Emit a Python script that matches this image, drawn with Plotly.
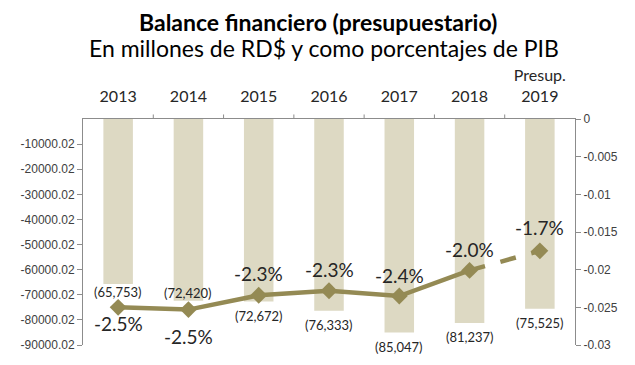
import plotly.graph_objects as go

categories = ["2013", "2014", "2015", "2016", "2017", "2018", "Presup.<br>2019"]
balance_mm = [-65753, -72420, -72672, -76333, -85047, -81237, -75525]
bar_labels = ["(65,753)", "(72,420)", "(72,672)", "(76,333)", "(85,047)", "(81,237)", "(75,525)"]
pct_pib = [-0.0250, -0.0253, -0.0234, -0.0228, -0.0235, -0.0201, -0.0175]
pct_labels = ["-2.5%", "-2.5%", "-2.3%", "-2.3%", "-2.4%", "-2.0%", "-1.7%"]
left_ticks = [-10000.02, -20000.02, -30000.02, -40000.02, -50000.02, -60000.02, -70000.02, -80000.02, -90000.02]
right_ticks = [0, -0.005, -0.01, -0.015, -0.02, -0.025, -0.03]

BAR = "#ddd9c3"
LINE = "#948a54"
TXT = "#262626"
AX = "#8c8c8c"

xpos = [float(i) for i in range(len(categories))]

fig = go.Figure()
fig.add_bar(x=xpos, y=balance_mm, marker=dict(color=BAR, line=dict(width=0)),
            width=0.42, yaxis="y", hoverinfo="skip")
# solid part (actual)
fig.add_scatter(x=xpos[:-1], y=pct_pib[:-1], yaxis="y2", mode="lines",
                line=dict(color=LINE, width=4.5), hoverinfo="skip")
# dashed part (budget)
fig.add_scatter(x=xpos[-2:], y=pct_pib[-2:], yaxis="y2", mode="lines",
                line=dict(color=LINE, width=4.5, dash="16px,16px"), hoverinfo="skip")
fig.add_scatter(x=xpos, y=pct_pib, yaxis="y2", mode="markers",
                marker=dict(symbol="diamond", size=13, color=LINE), hoverinfo="skip")

bar_shift = [-8, 8, -15, -14, -14, -14, -14]
for c, v, t, s in zip(xpos, balance_mm, bar_labels, bar_shift):
    fig.add_annotation(x=c, y=v, xref="x", yref="y", text=t, showarrow=False, yshift=s,
                       font=dict(family="Lato", size=13, color=TXT))
pct_shift = [-16, -27, 22, 21, 21, 21, 23]
for c, v, t, s in zip(xpos, pct_pib, pct_labels, pct_shift):
    fig.add_annotation(x=c, y=v, xref="x", yref="y2", text=t, showarrow=False, yshift=s,
                       font=dict(family="Lato", size=19, color=TXT))

fig.add_annotation(x=0.478, y=1, xref="paper", yref="paper", xanchor="center", yanchor="middle",
                   yshift=119 - 22, showarrow=False,
                   text="<b>Balance financiero (presupuestario)</b>",
                   font=dict(family="Lato", size=23, color="#000000"))
fig.add_annotation(x=0.49, y=1, xref="paper", yref="paper", xanchor="center", yanchor="middle",
                   yshift=119 - 48, showarrow=False,
                   text="En millones de RD$ y como porcentajes de PIB",
                   font=dict(family="Lato", size=23, color="#000000"))

# the page body has an 8px margin, so the margins are reduced by that offset
fig.update_layout(
    width=635, height=365,
    margin=dict(l=75, r=68, t=111, b=28),
    paper_bgcolor="white", plot_bgcolor="white",
    showlegend=False,
    xaxis=dict(side="top", range=[-0.5, len(categories) - 0.5], automargin=False,
               tickvals=xpos, ticktext=categories,
               showline=True, linecolor=AX, linewidth=1, ticks="",
               ticklabelstandoff=10, zeroline=False,
               tickfont=dict(family="Lato", size=16, color=TXT), showgrid=False),
    yaxis=dict(range=[-90000.02, 0], tickvals=left_ticks, automargin=False,
               ticktext=["%.2f" % v for v in left_ticks],
               showline=True, linecolor=AX, ticks="outside", ticklen=5, tickcolor=AX,
               showgrid=False, zeroline=False,
               tickfont=dict(family="Liberation Sans", size=12, color="#404040")),
    yaxis2=dict(range=[-0.03, 0], overlaying="y", side="right", tickvals=right_ticks,
                ticktext=[("%g" % v) for v in right_ticks], automargin=False,
                showline=True, linecolor=AX, ticks="outside", ticklen=5, tickcolor=AX,
                showgrid=False, zeroline=False,
                tickfont=dict(family="Liberation Sans", size=12, color="#404040")),
)
# category boundary tick marks on the top axis
for b in [i + 0.5 for i in xpos[:-1]]:
    fig.add_shape(type="line", xref="x", yref="paper", x0=b, x1=b, y0=1, y1=1.02,
                  line=dict(color=AX, width=1))
fig.write_html("out.html")
